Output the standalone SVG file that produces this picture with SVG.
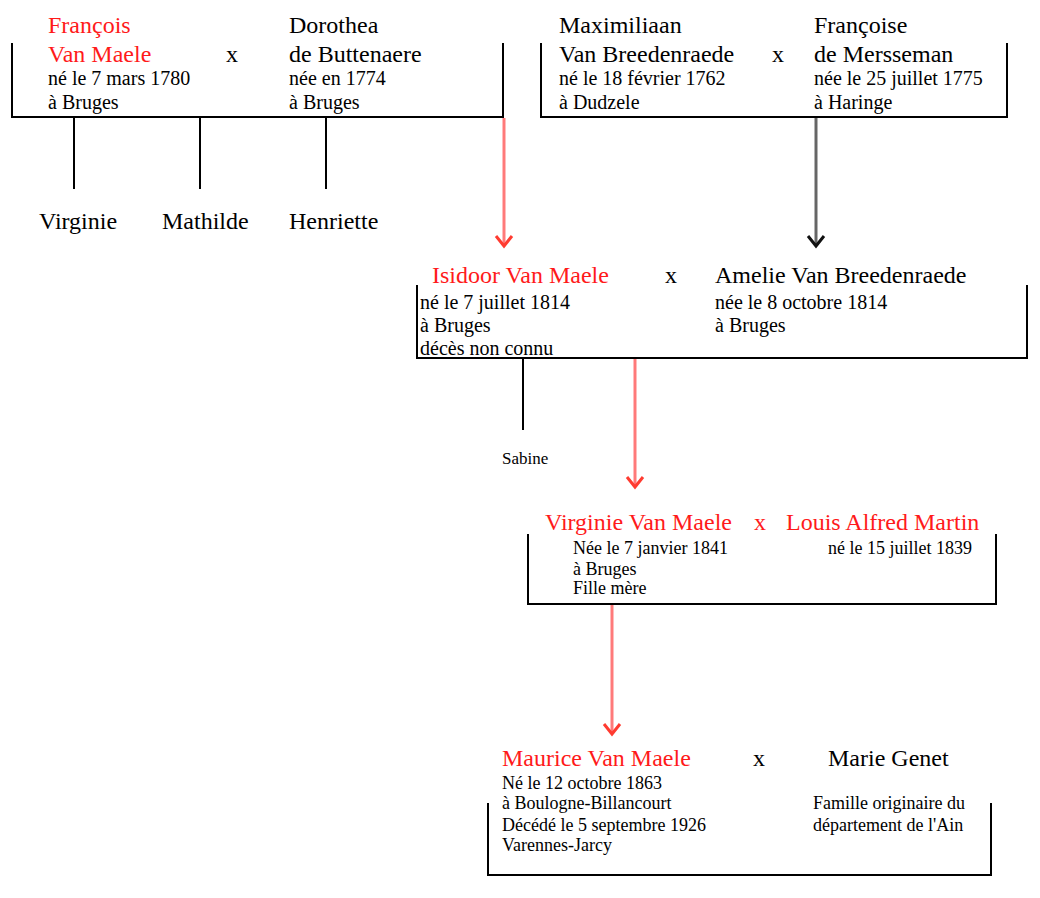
<svg xmlns="http://www.w3.org/2000/svg" width="1040" height="898" viewBox="0 0 1040 898">
<style>
text{font-family:"Liberation Serif","Times New Roman",serif;fill:#000}
.n{font-size:24px}
.d{font-size:20px}
.s{font-size:18px}
.r{fill:#ff1a1a}
.br{fill:none;stroke:#000;stroke-width:2}
.ln{stroke:#000;stroke-width:2}
.ra{stroke:#ff7a7a;stroke-width:3;fill:none}
.rh{stroke:#ff3b30;stroke-width:3;fill:none}
.ga{stroke:#666;stroke-width:3;fill:none}
.gh{stroke:#111;stroke-width:3;fill:none}
</style>
<rect width="1040" height="898" fill="#fff"/>
<g id="couple1">
<path class="br" d="M12,43 V117 H503 V43"/>
<text class="n r" x="48" y="33">François</text>
<text class="n r" x="48" y="62">Van Maele</text>
<text class="d" x="48" y="85">né le 7 mars 1780</text>
<text class="d" x="48" y="109">à Bruges</text>
<text class="n" x="226" y="62">x</text>
<text class="n" x="289" y="33">Dorothea</text>
<text class="n" x="289" y="62">de Buttenaere</text>
<text class="d" x="289" y="85">née en 1774</text>
<text class="d" x="289" y="109">à Bruges</text>
</g>
<g id="couple2">
<path class="br" d="M541,43 V117 H1007 V43"/>
<text class="n" x="559" y="33">Maximiliaan</text>
<text class="n" x="559" y="62">Van Breedenraede</text>
<text class="d" x="559" y="85">né le 18 février 1762</text>
<text class="d" x="559" y="109">à Dudzele</text>
<text class="n" x="772" y="62">x</text>
<text class="n" x="814" y="33">Françoise</text>
<text class="n" x="814" y="62">de Mersseman</text>
<text class="d" x="814" y="85">née le 25 juillet 1775</text>
<text class="d" x="814" y="109">à Haringe</text>
</g>
<g id="children1">
<text class="n" x="39" y="229">Virginie</text>
<text class="n" x="162" y="229">Mathilde</text>
<text class="n" x="289" y="229">Henriette</text>
</g>
<g id="couple3">
<path class="br" d="M417,285 V358 H1027 V285"/>
<text class="n r" x="432" y="283">Isidoor Van Maele</text>
<text class="n" x="665" y="283">x</text>
<text class="n" x="715" y="283">Amelie Van Breedenraede</text>
<text class="d" x="420" y="309">né le 7 juillet 1814</text>
<text class="d" x="420" y="332">à Bruges</text>
<text class="d" x="420" y="355">décès non connu</text>
<text class="d" x="715" y="309">née le 8 octobre 1814</text>
<text class="d" x="715" y="332">à Bruges</text>
</g>
<g id="child-sabine">
<text x="502" y="464" style="font-size:17px">Sabine</text>
</g>
<g id="couple4">
<path class="br" d="M528,534 V604 H996 V534"/>
<text class="n r" x="545" y="530">Virginie Van Maele</text>
<text class="n r" x="754" y="530">x</text>
<text class="n r" x="786" y="530">Louis Alfred Martin</text>
<text class="s" x="573" y="554">Née le 7 janvier 1841</text>
<text class="s" x="573" y="575">à Bruges</text>
<text class="s" x="573" y="594">Fille mère</text>
<text class="s" x="828" y="554">né le 15 juillet 1839</text>
</g>
<g id="couple5">
<path class="br" d="M488,803 V875 H991 V803"/>
<text class="n r" x="502" y="766">Maurice Van Maele</text>
<text class="n" x="753" y="766">x</text>
<text class="n" x="828" y="766">Marie Genet</text>
<text class="s" x="502" y="789">Né le 12 octobre 1863</text>
<text class="s" x="502" y="809">à Boulogne-Billancourt</text>
<text class="s" x="502" y="831">Décédé le 5 septembre 1926</text>
<text class="s" x="502" y="851">Varennes-Jarcy</text>
<text class="s" x="813" y="809">Famille originaire du</text>
<text class="s" x="813" y="831">département de l'Ain</text>
</g>
<g id="connectors">
<line class="ln" x1="74" y1="117" x2="74" y2="189"/>
<line class="ln" x1="200" y1="117" x2="200" y2="189"/>
<line class="ln" x1="326" y1="117" x2="326" y2="189"/>
<line class="ln" x1="523" y1="358" x2="523" y2="430"/>
<line class="ra" x1="504" y1="118" x2="504" y2="246"/>
<path class="rh" d="M496,236 L504,246 L512,236"/>
<line class="ga" x1="816" y1="118" x2="816" y2="246"/>
<path class="gh" d="M808,236 L816,246 L824,236"/>
<line class="ra" x1="635" y1="359" x2="635" y2="487"/>
<path class="rh" d="M627,477 L635,487 L643,477"/>
<line class="ra" x1="612" y1="605" x2="612" y2="734"/>
<path class="rh" d="M604,724 L612,734 L620,724"/>
</g>
</svg>
